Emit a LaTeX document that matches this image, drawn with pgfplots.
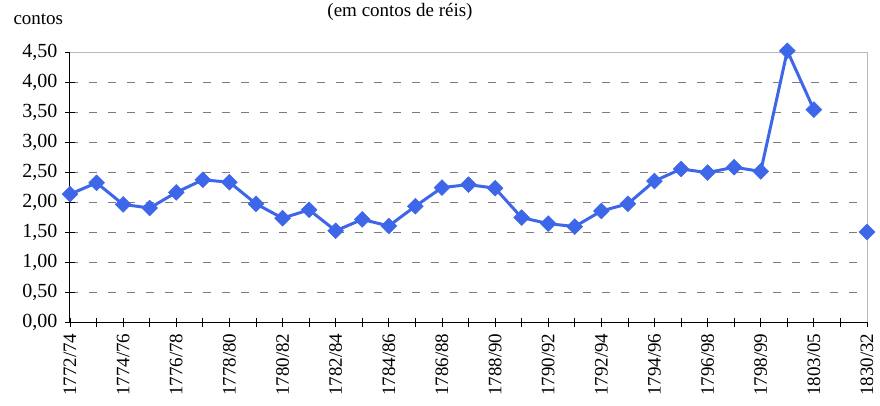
\documentclass[border=0pt]{standalone}
\usepackage{pgfplots}
\pgfplotsset{compat=1.18}
\usepackage{fontspec}
\setmainfont{Liberation Serif}
\definecolor{serie}{RGB}{62,102,232}
\definecolor{gridc}{RGB}{125,125,125}
\begin{document}
\begin{tikzpicture}
\begin{axis}[
  scale only axis,
  width=797pt, height=270pt,
  at={(0pt,0pt)}, anchor=south west,
  xmin=0, xmax=30, ymin=0, ymax=4.5,
  axis lines*=left,
  axis line style={black, line width=1pt},
  clip=false,
  unbounded coords=jump,
  xtick={0,...,30},
  xticklabels={1772/74,{},1774/76,{},1776/78,{},1778/80,{},1780/82,{},1782/84,{},1784/86,{},1786/88,{},1788/90,{},1790/92,{},1792/94,{},1794/96,{},1796/98,{},1798/99,{},1803/05,{},1830/32},
  ytick={0,0.5,...,4.5},
  tick align=center,
  major tick length=9pt,
  tick style={black, line width=0.8pt},
  ymajorgrids,
  major grid style={gridc, dash pattern=on 8pt off 11pt, line width=0.8pt},
  /pgf/number format/assume math mode=true,
  yticklabel style={/pgf/number format/fixed, /pgf/number format/fixed zerofill, /pgf/number format/precision=2, /pgf/number format/use comma, inner sep=0pt, xshift=-8pt, font=\fontsize{20}{20}\selectfont},
  xticklabel style={rotate=90, anchor=east, inner sep=0pt, xshift=-7pt, font=\fontsize{19}{19}\selectfont},
]
\addplot[serie, line width=3pt, mark=square*, mark size=5.6pt,
  mark options={rotate=45, solid, fill=serie, draw=serie, line width=0.5pt}]
  table[x=x, y=y] {
x y
0 2.13
1 2.32
2 1.96
3 1.90
4 2.16
5 2.37
6 2.33
7 1.97
8 1.73
9 1.87
10 1.52
11 1.71
12 1.60
13 1.93
14 2.24
15 2.29
16 2.23
17 1.74
18 1.64
19 1.59
20 1.85
21 1.97
22 2.35
23 2.55
24 2.49
25 2.58
26 2.51
27 4.52
28 3.54
29 nan
30 1.50
};
\draw[gray!55, line width=0.8pt] (rel axis cs:0,1) -- (rel axis cs:1,1) -- (rel axis cs:1,0);
\end{axis}
\node[anchor=base west, font=\fontsize{19}{19}\selectfont] at (-60pt,297pt) {contos};
\node[anchor=base, font=\fontsize{19}{19}\selectfont] at (330pt,305pt) {(em contos de réis)};
\pgfresetboundingbox
\useasboundingbox (-70pt,-83pt) rectangle (810pt,322pt);
\end{tikzpicture}
\end{document}
